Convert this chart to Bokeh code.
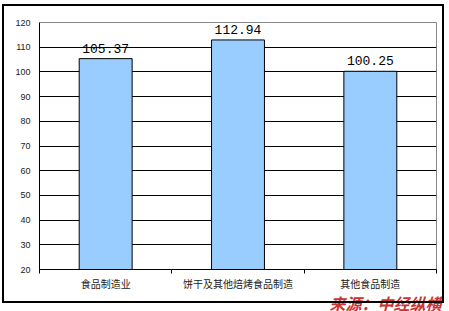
from bokeh.plotting import figure
from bokeh.models import ColumnDataSource, FixedTicker, Range1d, InlineStyleSheet, Title
from bokeh.core.properties import value
from bokeh.embed import file_html
from bokeh.resources import INLINE

categories = ["食品制造业", "饼干及其他焙烤食品制造", "其他食品制造"]
values = [105.37, 112.94, 100.25]
value_labels = ["105.37", "112.94", "100.25"]
y_ticks = [20, 30, 40, 50, 60, 70, 80, 90, 100, 110, 120]
source_text = "来源：中经纵横"

W, H = 449, 311
p = figure(width=W, height=H, output_backend="svg", toolbar_location=None,
           x_range=Range1d(0, len(categories)), y_range=Range1d(20, 120),
           min_border_left=39, min_border_right=13, min_border_top=22, min_border_bottom=41)

xpos = [i + 0.5 for i in range(len(categories))]
src = ColumnDataSource(dict(x=xpos, top=values, lab=value_labels))

p.vbar(x="x", top="top", bottom=20, width=0.4, source=src,
       fill_color="#99CCFF", line_color="black", line_width=1)
p.text(x="x", y="top", text="lab", source=src, text_align="center",
       text_baseline="bottom", y_offset=-6,
       text_font=value("Liberation Mono"), text_font_size="13px", text_color="black")

# y axis
p.yaxis.ticker = FixedTicker(ticks=y_ticks)
p.yaxis.major_tick_line_color = None
p.yaxis.major_tick_out = 0
p.yaxis.minor_tick_line_color = None
p.yaxis.minor_tick_out = 0
p.yaxis.major_label_text_font = "Liberation Sans"
p.yaxis.major_label_text_font_size = "9px"
p.yaxis.major_label_text_color = "#222222"
p.yaxis.major_label_standoff = 9
p.yaxis.axis_line_color = "black"

# x axis
p.xaxis.ticker = FixedTicker(ticks=xpos, minor_ticks=list(range(len(categories) + 1)))
p.xaxis.major_label_overrides = {x: c for x, c in zip(xpos, categories)}
p.xaxis.major_tick_line_color = None
p.xaxis.major_tick_out = 0
p.xaxis.minor_tick_line_color = "black"
p.xaxis.minor_tick_out = 4
p.xaxis.minor_tick_in = 0
p.xaxis.major_label_text_font = "Noto Sans CJK SC"
p.xaxis.major_label_text_font_size = "10px"
p.xaxis.major_label_text_color = "#222222"
p.xaxis.major_label_standoff = 2
p.xaxis.axis_line_color = "black"

p.xgrid.grid_line_color = None
p.ygrid.ticker = FixedTicker(ticks=y_ticks[1:-1])
p.ygrid.grid_line_color = "black"
p.ygrid.grid_line_alpha = 1.0

p.outline_line_color = "#888888"
p.outline_line_width = 1
p.background_fill_color = "white"
p.border_fill_color = "white"

# source note below, right aligned
p.add_layout(Title(text=source_text, align="right", vertical_align="middle",
                   offset=-5, standoff=-8,
                   text_font="Noto Sans CJK SC", text_font_size="16px",
                   text_font_style="bold italic", text_color="#CC3333"), "below")

css = (":host::after { content: ''; position: absolute; left: 2px; top: 4px; "
       "width: 438px; height: 295px; border: 2px solid black; "
       "pointer-events: none; z-index: 5; }")
p.stylesheets = [InlineStyleSheet(css=css)]

open("out.html", "w").write(file_html(p, INLINE))
